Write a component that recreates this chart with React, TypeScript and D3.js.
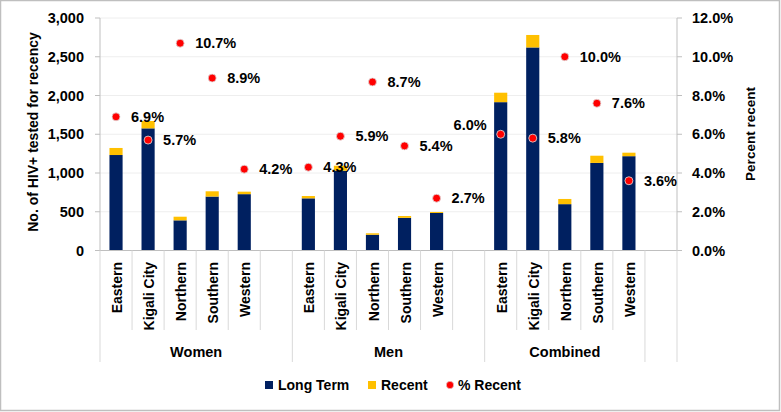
import React from "react";
import * as d3 from "d3";

const groups = ["Women", "Men", "Combined"];
const regions = ["Eastern", "Kigali City", "Northern", "Southern", "Western"];
const longTermWomen = [1232, 1576, 389, 696, 727];
const recentWomen = [91, 95, 47, 68, 32];
const longTermMen = [673, 1029, 203, 421, 484];
const recentMen = [30, 65, 19, 24, 13];
const longTermCombined = [1914, 2620, 598, 1130, 1217];
const recentCombined = [122, 161, 67, 93, 45];
const pctWomen = [6.9, 5.7, 10.7, 8.9, 4.2];
const pctMen = [4.3, 5.9, 8.7, 5.4, 2.7];
const pctCombined = [6.0, 5.8, 10.0, 7.6, 3.6];
const leftTicks = [0, 500, 1000, 1500, 2000, 2500, 3000];
const rightTicks = [0, 2, 4, 6, 8, 10, 12];

const W = 781, H = 412;
const FONT = "'Liberation Sans', Arial, sans-serif";
const NAVY = "#002060", GOLD = "#FFC000", RED = "#FF0000";

type Row = { key: string; group: number; region: string; lt: number; rec: number; pct: number };

const longTerm = [longTermWomen, longTermMen, longTermCombined];
const recent = [recentWomen, recentMen, recentCombined];
const pcts = [pctWomen, pctMen, pctCombined];

const slots: string[] = [];
const rows: Row[] = [];
groups.forEach((g, gi) => {
  regions.forEach((r, ri) => {
    const key = `${g}-${r}`;
    slots.push(key);
    rows.push({ key, group: gi, region: r, lt: longTerm[gi][ri], rec: recent[gi][ri], pct: pcts[gi][ri] });
  });
  slots.push(`${g}-blank`);
});

export default function App() {
  const left = 100, right = 677, top = 18, bottom = 250.5;
  const x = d3.scaleBand<string>().domain(slots).range([left, right]).paddingInner(0).paddingOuter(0);
  const y = d3.scaleLinear().domain([0, 3000]).range([bottom, top]);
  const y2 = d3.scaleLinear().domain([0, 12]).range([bottom, top]);
  const bw = x.bandwidth() * 0.41;
  const fmt = d3.format(",");

  // group spans: Women & Men 6 slots each, Combined 5 slots, then lone blank slot
  const groupSpans = [
    { label: "Women", x0: x(slots[0])!, x1: x(slots[5])! + x.bandwidth() },
    { label: "Men", x0: x(slots[6])!, x1: x(slots[11])! + x.bandwidth() },
    { label: "Combined", x0: x(slots[12])!, x1: x(slots[16])! + x.bandwidth() },
    { label: "", x0: x(slots[17])!, x1: x(slots[17])! + x.bandwidth() },
  ];
  const groupLines = [groupSpans[0].x0, groupSpans[1].x0, groupSpans[2].x0, groupSpans[3].x0, right];
  const minorLines = slots.map((s) => x(s)!).filter((v) => !groupLines.some((g) => Math.abs(g - v) < 0.5));

  return (
    <svg width={W} height={H} style={{ display: "block", position: "absolute", left: 0, top: 0 }} fontFamily={FONT}>
      <rect x={0.5} y={0.5} width={W - 2} height={H - 2} fill="#fff" stroke="#bfbfbf" strokeWidth={1.5} />
      {/* gridlines */}
      {leftTicks.slice(1).map((t) => (
        <line key={t} x1={left} x2={right} y1={y(t)} y2={y(t)} stroke="#eeeeee" strokeWidth={1} />
      ))}
      {/* left axis */}
      <line x1={left} x2={left} y1={top} y2={bottom} stroke="#bfbfbf" />
      {leftTicks.map((t) => (
        <g key={t}>
          <line x1={left - 5} x2={left} y1={y(t)} y2={y(t)} stroke="#bfbfbf" />
          <text x={84} y={y(t)} dy="0.36em" textAnchor="end" fontSize={14.5} fontWeight="bold" fill="#000">
            {fmt(t)}
          </text>
        </g>
      ))}
      {/* right axis */}
      <line x1={right} x2={right} y1={top} y2={bottom} stroke="#bfbfbf" />
      {rightTicks.map((t) => (
        <g key={t}>
          <line x1={right} x2={right + 5} y1={y2(t)} y2={y2(t)} stroke="#bfbfbf" />
          <text x={692} y={y2(t)} dy="0.36em" textAnchor="start" fontSize={14.5} fontWeight="bold" fill="#000">
            {t.toFixed(1)}%
          </text>
        </g>
      ))}
      <text transform={`translate(33,132) rotate(-90)`} textAnchor="middle" dy="0.36em" fontSize={14} fontWeight="bold">
        No. of HIV+ tested for recency
      </text>
      <text transform={`translate(750,134) rotate(-90)`} textAnchor="middle" dy="0.36em" fontSize={13.5} fontWeight="bold">
        Percent recent
      </text>
      {/* bars */}
      {rows.map((r) => {
        const cx = x(r.key)! + x.bandwidth() / 2;
        return (
          <g key={r.key}>
            <rect x={cx - bw / 2} y={y(r.lt)} width={bw} height={y(0) - y(r.lt)} fill={NAVY} />
            <rect x={cx - bw / 2} y={y(r.lt + r.rec)} width={bw} height={y(r.lt) - y(r.lt + r.rec)} fill={GOLD} />
          </g>
        );
      })}
      {/* x axis */}
      <line x1={left} x2={right} y1={bottom} y2={bottom} stroke="#bfbfbf" />
      {minorLines.map((v, i) => (
        <line key={i} x1={v} x2={v} y1={bottom} y2={330} stroke="#d9d9d9" />
      ))}
      {groupLines.map((v, i) => (
        <line key={i} x1={v} x2={v} y1={bottom} y2={362} stroke="#d9d9d9" />
      ))}
      {rows.map((r) => {
        const cx = x(r.key)! + x.bandwidth() / 2;
        return (
          <text key={r.key} transform={`translate(${cx + 1},262) rotate(-90)`} textAnchor="end" dy="0.36em" fontSize={14} fontWeight="bold">
            {r.region}
          </text>
        );
      })}
      {groupSpans.map((g, i) => (
        <text key={i} x={(g.x0 + g.x1) / 2} y={352} dy="0.36em" textAnchor="middle" fontSize={14.5} fontWeight="bold">
          {g.label}
        </text>
      ))}
      {/* percent dots and labels */}
      {rows.map((r) => {
        const cx = x(r.key)! + x.bandwidth() / 2;
        const cy = y2(r.pct);
        const special = r.group === 2 && r.region === "Eastern";
        return (
          <g key={r.key}>
            <circle cx={cx} cy={cy} r={4} fill={RED} stroke="#e0e0e0" strokeWidth={0.8} />
            <text
              x={special ? cx - 14 : cx + 15}
              y={special ? cy - 9 : cy}
              dy="0.36em"
              textAnchor={special ? "end" : "start"}
              fontSize={14.5}
              fontWeight="bold"
            >
              {r.pct.toFixed(1)}%
            </text>
          </g>
        );
      })}
      {/* legend */}
      <g fontSize={14} fontWeight="bold">
        <rect x={265} y={381} width={8} height={8} fill={NAVY} />
        <text x={278} y={385} dy="0.36em">Long Term</text>
        <rect x={368} y={381} width={8} height={8} fill={GOLD} />
        <text x={381} y={385} dy="0.36em">Recent</text>
        <circle cx={450} cy={385} r={3.7} fill={RED} stroke="#e0e0e0" strokeWidth={0.6} />
        <text x={458} y={385} dy="0.36em">% Recent</text>
      </g>
    </svg>
  );
}
